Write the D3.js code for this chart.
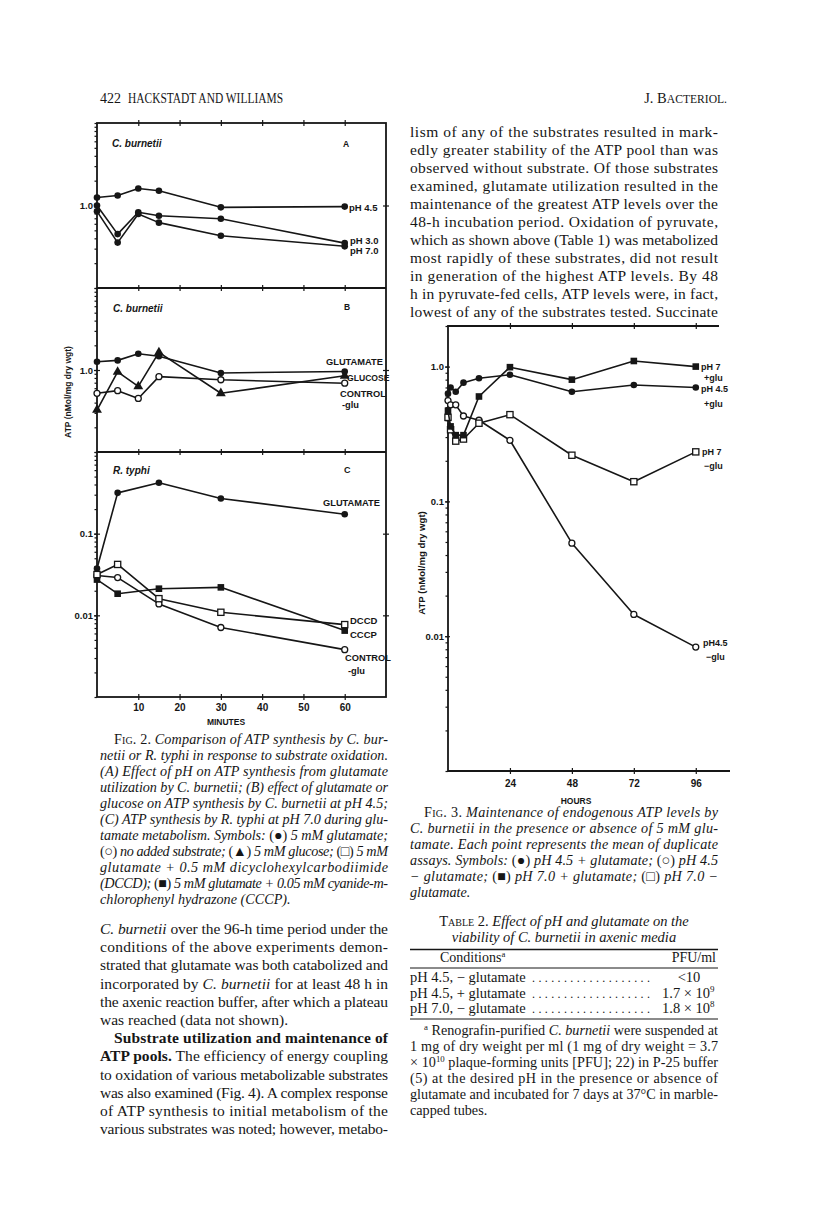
<!DOCTYPE html>
<html><head><meta charset="utf-8">
<script src="https://cdn.jsdelivr.net/npm/d3@7"></script>
<style>html,body{margin:0;padding:0;background:#fff;}svg{display:block;}</style>
</head><body>
<svg id="page" width="816" height="1226"></svg>
<script>
// ================= DATA =================
// Fig. 2 (minutes)
const fig2Minutes = [0, 5, 10, 15, 30, 60];
const panelA_pH45 = [1.25, 1.32, 1.61, 1.51, 0.95, 0.97];
const panelA_pH30 = [1.0, 0.45, 0.83, 0.75, 0.69, 0.35];
const panelA_pH70 = [0.85, 0.355, 0.79, 0.62, 0.43, 0.32];
const panelB_glutamate = [1.26, 1.31, 1.58, 1.47, 0.92, 0.96];
const panelB_glucose = [0.325, 0.95, 0.63, 1.64, 0.52, 0.85];
const panelB_control = [0.52, 0.56, 0.45, 0.83, 0.76, 0.69];
const panelC_minutes = [0, 5, 15, 30, 60];
const panelC_glutamate = [0.0374, 0.316, 0.42, 0.27, 0.173];
const panelC_dccd = [0.0316, 0.042, 0.016, 0.0109, 0.0077];
const panelC_cccp = [0.0274, 0.0184, 0.0212, 0.022, 0.0065];
const panelC_control = [0.0307, 0.029, 0.0138, 0.0071, 0.0038];
const fig2XTicks = [10, 20, 30, 40, 50, 60];
const fig2YLabelsAB = [{v: 1, t: "1.0"}];
const fig2YLabelsC = [{v: 0.1, t: "0.1"}, {v: 0.01, t: "0.01"}];

// Fig. 3 (hours)
const fig3Hours = [0, 1, 3, 6, 12, 24, 48, 72, 96];
const fig3_pH45_glu = [0.63, 0.70, 0.65, 0.76, 0.82, 0.87, 0.65, 0.73, 0.70];
const fig3_pH45_noglu = [0.56, 0.52, 0.52, 0.43, 0.40, 0.284, 0.049, 0.0145, 0.0083];
const fig3_pH7_glu = [0.47, 0.36, 0.31, 0.31, 0.60, 0.99, 0.80, 1.1, 1.0];
const fig3_pH7_noglu = [0.42, 0.34, 0.28, 0.29, 0.38, 0.44, 0.22, 0.14, 0.233];
const fig3XTicks = [24, 48, 72, 96];
const fig3YLabels = [{v: 1, t: "1.0"}, {v: 0.1, t: "0.1"}, {v: 0.01, t: "0.01"}];

// Table 2
const table2Conditions = ["pH 4.5, \u2212 glutamate", "pH 4.5, + glutamate", "pH 7.0, \u2212 glutamate"];
const table2PFU = [["<10", ""], ["1.7 \u00d7 10", "9"], ["1.8 \u00d7 10", "8"]];

// ================= TEXT =================
const rightBody = [
 ["lism of any of the substrates resulted in mark-"],
 ["edly greater stability of the ATP pool than was"],
 ["observed without substrate. Of those substrates"],
 ["examined, glutamate utilization resulted in the"],
 ["maintenance of the greatest ATP levels over the"],
 ["48-h incubation period. Oxidation of pyruvate,"],
 ["which as shown above (Table 1) was metabolized"],
 ["most rapidly of these substrates, did not result"],
 ["in generation of the highest ATP levels. By 48"],
 ["h in pyruvate-fed cells, ATP levels were, in fact,"],
 ["lowest of any of the substrates tested. Succinate"]
];
const leftBody = [
 {s: [["C. burnetii", "i"], " over the 96-h time period under the"]},
 {s: ["conditions of the above experiments demon-"]},
 {s: ["strated that glutamate was both catabolized and"]},
 {s: ["incorporated by ", ["C. burnetii", "i"], " for at least 48 h in"]},
 {s: ["the axenic reaction buffer, after which a plateau"]},
 {s: ["was reached (data not shown)."], last: true},
 {s: [["Substrate utilization and maintenance of", "b"]], indent: true},
 {s: [["ATP pools.", "b"], " The efficiency of energy coupling"]},
 {s: ["to oxidation of various metabolizable substrates"]},
 {s: ["was also examined (Fig. 4). A complex response"]},
 {s: ["of ATP synthesis to initial metabolism of the"]},
 {s: ["various substrates was noted; however, metabo-"]}
];
const fig2Caption = [
 {s: [["Fig. 2.", "nc"], " Comparison of ATP synthesis by C. bur-"], indent: true},
 {s: ["netii or R. typhi in response to substrate oxidation."]},
 {s: ["(A) Effect of pH on ATP synthesis from glutamate"]},
 {s: ["utilization by C. burnetii; (B) effect of glutamate or"]},
 {s: ["glucose on ATP synthesis by C. burnetii at pH 4.5;"]},
 {s: ["(C) ATP synthesis by R. typhi at pH 7.0 during glu-"]},
 {s: ["tamate metabolism. Symbols: ", ["(\u25cf)", "n"], " 5 mM glutamate;"]},
 {s: [["(\u25cb)", "n"], " no added substrate; ", ["(\u25b2)", "n"], " 5 mM glucose; ", ["(\u25a1)", "n"], " 5 mM"]},
 {s: ["glutamate + 0.5 mM dicyclohexylcarbodiimide"]},
 {s: ["(DCCD); ", ["(\u25a0)", "n"], " 5 mM glutamate + 0.05 mM cyanide-m-"]},
 {s: ["chlorophenyl hydrazone (CCCP)."], last: true}
];
const fig3Caption = [
 {s: [["Fig. 3.", "nc"], " Maintenance of endogenous ATP levels by"], indent: true},
 {s: ["C. burnetii in the presence or absence of 5 mM glu-"]},
 {s: ["tamate. Each point represents the mean of duplicate"]},
 {s: ["assays. Symbols: ", ["(\u25cf)", "n"], " pH 4.5 + glutamate; ", ["(\u25cb)", "n"], " pH 4.5"]},
 {s: ["\u2212 glutamate; ", ["(\u25a0)", "n"], " pH 7.0 + glutamate; ", ["(\u25a1)", "n"], " pH 7.0 \u2212"]},
 {s: ["glutamate."], last: true}
];
const table2Footnote = [
 {s: [["a", "sup"], " Renografin-purified ", ["C. burnetii", "i"], " were suspended at"], indent: true},
 {s: ["1 mg of dry weight per ml (1 mg of dry weight = 3.7"]},
 {s: ["\u00d7 10", ["10", "sup"], " plaque-forming units [PFU]; 22) in P-25 buffer"]},
 {s: ["(5) at the desired pH in the presence or absence of"]},
 {s: ["glutamate and incubated for 7 days at 37\u00b0C in marble-"]},
 {s: ["capped tubes."], last: true}
];

// ================= DRAW =================
const SERIF = "'Liberation Serif','DejaVu Serif',serif";
const SANS = "'Liberation Sans','DejaVu Sans',sans-serif";
const INK = "#161616";
const svg = d3.select("#page");
svg.append("rect").attr("width", 816).attr("height", 1226).attr("fill", "#fff");

function line(g, x, y, segs, o) {
  const t = g.append("text").attr("x", x).attr("y", y)
    .attr("font-family", o.family || SERIF).attr("font-size", o.size).attr("fill", INK);
  if (o.italic) t.attr("font-style", "italic");
  if (o.bold) t.attr("font-weight", "bold");
  if (o.anchor) t.attr("text-anchor", o.anchor);
  if (o.width) t.attr("textLength", o.width).attr("lengthAdjust", o.adjust || "spacing");
  let raised = false;
  const shift = o.size * 0.38;
  segs.forEach(s => {
    const txt = typeof s === "string" ? s : s[0];
    const st = typeof s === "string" ? "" : s[1];
    const sp = t.append("tspan").text(txt);
    if (st === "sup") {
      sp.attr("font-size", o.size * 0.62);
      if (!raised) { sp.attr("dy", -shift); raised = true; }
      return;
    }
    if (raised) { sp.attr("dy", shift); raised = false; }
    if (st.includes("i")) sp.attr("font-style", "italic");
    if (st.includes("n")) sp.attr("font-style", "normal");
    if (st.includes("b")) sp.attr("font-weight", "bold");
    if (st.includes("c")) sp.attr("font-variant", "small-caps");
    if (st.includes("m")) sp.attr("font-size", o.size * 0.8);
  });
  return t;
}

function paragraph(g, lines, x0, x1, y0, dy, o) {
  lines.forEach((ln, i) => {
    const segs = ln.s || ln;
    const xs = ln.indent ? x0 + 14 : x0;
    const oo = Object.assign({}, o);
    if (!ln.last) oo.width = x1 - xs;
    line(g, xs, y0 + i * dy, segs, oo);
  });
}

// header
const hdr = svg.append("g");
line(hdr, 100, 103, ["422"], {size: 14});
line(hdr, 128, 103, ["HACKSTADT AND WILLIAMS"], {size: 14.5, width: 155, adjust: "spacingAndGlyphs"});
line(hdr, 727, 103, ["J. B", ["ACTERIOL.", "m"]], {size: 14.5, anchor: "end"});

// body text
const tx = svg.append("g");
paragraph(tx, rightBody, 410, 718, 137, 18, {size: 15.5});
paragraph(tx, leftBody, 100, 388, 934, 18.2, {size: 15.5});
paragraph(tx, fig2Caption, 100, 388, 744, 16, {size: 14.2, italic: true});
paragraph(tx, fig3Caption, 410, 718, 817, 16, {size: 14.2, italic: true});

// ---------- generic chart helpers ----------
function drawSeries(g, xs, ys, xS, yS, mk) {
  const pts = xs.map((x, i) => [xS(x), yS(ys[i])]);
  g.append("path").attr("d", d3.line()(pts)).attr("fill", "none")
    .attr("stroke", INK).attr("stroke-width", 1.6).attr("stroke-linejoin", "round");
  const m = g.append("g");
  pts.forEach(p => {
    if (mk === "fc") m.append("circle").attr("cx", p[0]).attr("cy", p[1]).attr("r", 3.3).attr("fill", INK);
    else if (mk === "oc") m.append("circle").attr("cx", p[0]).attr("cy", p[1]).attr("r", 3).attr("fill", "#fff").attr("stroke", INK).attr("stroke-width", 1.3);
    else if (mk === "fs") m.append("rect").attr("x", p[0] - 3.3).attr("y", p[1] - 3.3).attr("width", 6.6).attr("height", 6.6).attr("fill", INK);
    else if (mk === "os") m.append("rect").attr("x", p[0] - 3.1).attr("y", p[1] - 3.1).attr("width", 6.2).attr("height", 6.2).attr("fill", "#fff").attr("stroke", INK).attr("stroke-width", 1.3);
    else if (mk === "ft") m.append("path").attr("transform", `translate(${p[0]},${p[1]})`).attr("d", d3.symbol(d3.symbolTriangle, 42)()).attr("fill", INK);
  });
}
function minorTicks(domain) {
  const out = [];
  for (let e = Math.floor(Math.log10(domain[0])); e <= Math.ceil(Math.log10(domain[1])); e++)
    for (let k = 1; k <= 9; k++) { const v = k * Math.pow(10, e); if (v >= domain[0] * 0.999 && v <= domain[1] * 1.001) out.push(v); }
  return out;
}
function styleAxis(g) {
  g.select(".domain").remove();
  g.selectAll("line").attr("stroke", INK).attr("stroke-width", 1.2);
  g.selectAll("text").attr("fill", INK);
}
function addLabel(g, lb) {
  g.append("text").attr("x", lb.x).attr("y", lb.y).text(lb.t)
    .attr("font-family", SANS).attr("font-weight", "bold").attr("font-size", lb.size || 9.5)
    .attr("font-style", lb.italic ? "italic" : "normal").attr("fill", INK);
}

// ================= FIG 2 =================
const f2 = svg.append("g");
const x2 = d3.scaleLinear([0, 70], [97, 386]);
const panels = [
  {y: d3.scaleLog([0.1, 10], [288, 123]), labels: fig2YLabelsAB,
   series: [[fig2Minutes, panelA_pH45, "fc"], [fig2Minutes, panelA_pH30, "fc"], [fig2Minutes, panelA_pH70, "fc"]],
   text: [{t: "C. burnetii", x: 112, y: 147, italic: true, size: 10}, {t: "A", x: 343, y: 147, size: 8.5},
          {t: "pH 4.5", x: 349, y: 211}, {t: "pH 3.0", x: 350, y: 244}, {t: "pH 7.0", x: 350, y: 254}]},
  {y: d3.scaleLog([0.1, 10], [452, 288]), labels: fig2YLabelsAB,
   series: [[fig2Minutes, panelB_control, "oc"], [fig2Minutes, panelB_glucose, "ft"], [fig2Minutes, panelB_glutamate, "fc"]],
   text: [{t: "C. burnetii", x: 113, y: 312, italic: true, size: 10}, {t: "B", x: 344, y: 310, size: 8.5},
          {t: "GLUTAMATE", x: 326, y: 365, size: 9.3}, {t: "GLUCOSE", x: 347, y: 381, size: 8.6},
          {t: "CONTROL", x: 340, y: 397, size: 9.3}, {t: "-glu", x: 342, y: 408, size: 9.3}]},
  {y: d3.scaleLog([0.001, 1], [697, 452]), labels: fig2YLabelsC,
   series: [[panelC_minutes, panelC_glutamate, "fc"], [panelC_minutes, panelC_control, "oc"], [panelC_minutes, panelC_cccp, "fs"], [panelC_minutes, panelC_dccd, "os"]],
   text: [{t: "R. typhi", x: 113, y: 474, italic: true, size: 10}, {t: "C", x: 344, y: 473, size: 9},
          {t: "GLUTAMATE", x: 323, y: 506, size: 9.3}, {t: "DCCD", x: 350, y: 624, size: 9.5},
          {t: "CCCP", x: 350, y: 638, size: 9.5}, {t: "CONTROL", x: 345, y: 661, size: 9.3}, {t: "-glu", x: 348, y: 674, size: 9.3}]}
];
f2.append("rect").attr("x", 97).attr("y", 123).attr("width", 289).attr("height", 574)
  .attr("fill", "none").attr("stroke", INK).attr("stroke-width", 1.8);
[288, 452].forEach(yy => f2.append("line").attr("x1", 97).attr("x2", 386).attr("y1", yy).attr("y2", yy).attr("stroke", INK).attr("stroke-width", 1.8));
[123, 288, 452].forEach(yy => {
  styleAxis(f2.append("g").attr("transform", `translate(0,${yy - 3})`).call(d3.axisBottom(x2).tickValues(fig2XTicks).tickSize(6).tickFormat("")));
});
const xa2 = f2.append("g").attr("transform", "translate(0,694)")
  .call(d3.axisBottom(x2).tickValues(fig2XTicks).tickSize(6).tickPadding(4).tickFormat(d3.format("d")));
styleAxis(xa2);
xa2.selectAll("text").attr("font-family", SANS).attr("font-weight", "bold").attr("font-size", 10);
f2.append("text").attr("x", 226).attr("y", 725).attr("text-anchor", "middle").text("MINUTES")
  .attr("font-family", SANS).attr("font-weight", "bold").attr("font-size", 8.5).attr("fill", INK);

panels.forEach(p => {
  const g = f2.append("g");
  styleAxis(g.append("g").attr("transform", "translate(97,0)")
    .call(d3.axisLeft(p.y).tickValues(minorTicks(p.y.domain())).tickSize(2.5).tickFormat("")));
  const maj = g.append("g").attr("transform", "translate(100,0)")
    .call(d3.axisLeft(p.y).tickValues(p.labels.map(d => d.v)).tickSize(6).tickPadding(1).tickFormat((d, i) => p.labels[i].t));
  styleAxis(maj);
  maj.selectAll("text").attr("font-family", SANS).attr("font-weight", "bold").attr("font-size", 9.5);
  styleAxis(g.append("g").attr("transform", "translate(389,0)")
    .call(d3.axisLeft(p.y).tickValues(p.labels.map(d => d.v)).tickSize(6).tickFormat("")));
  p.series.forEach(s => drawSeries(g, s[0], s[1], x2, p.y, s[2]));
  p.text.forEach(lb => addLabel(g, lb));
});
f2.append("text").attr("transform", "translate(71,392) rotate(-90)").attr("text-anchor", "middle")
  .text("ATP (nMol/mg dry wgt)").attr("font-family", SANS).attr("font-weight", "bold").attr("font-size", 8.5).attr("fill", INK);

// ================= FIG 3 =================
const f3 = svg.append("g");
const x3 = d3.scaleLinear([0, 105], [448, 719]);
const y3 = d3.scaleLog([0.001, 2], [771, 326]);
f3.append("path").attr("d", `M719,326H448V771H730`).attr("fill", "none").attr("stroke", INK).attr("stroke-width", 1.8);
styleAxis(f3.append("g").attr("transform", "translate(0,323)").call(d3.axisBottom(x3).tickValues(fig3XTicks).tickSize(6).tickFormat("")));
const xa3 = f3.append("g").attr("transform", "translate(0,768)")
  .call(d3.axisBottom(x3).tickValues(fig3XTicks).tickSize(6).tickPadding(6).tickFormat(d3.format("d")));
styleAxis(xa3);
xa3.selectAll("text").attr("font-family", SANS).attr("font-weight", "bold").attr("font-size", 10);
f3.append("text").attr("x", 576).attr("y", 804).attr("text-anchor", "middle").text("HOURS")
  .attr("font-family", SANS).attr("font-weight", "bold").attr("font-size", 8.5).attr("fill", INK);
styleAxis(f3.append("g").attr("transform", "translate(448,0)")
  .call(d3.axisLeft(y3).tickValues(minorTicks(y3.domain())).tickSize(2.5).tickFormat("")));
const ya3 = f3.append("g").attr("transform", "translate(450,0)")
  .call(d3.axisLeft(y3).tickValues(fig3YLabels.map(d => d.v)).tickSize(5).tickPadding(1).tickFormat((d, i) => fig3YLabels[i].t));
styleAxis(ya3);
ya3.selectAll("text").attr("font-family", SANS).attr("font-weight", "bold").attr("font-size", 9.5);
f3.append("text").attr("transform", "translate(425,563) rotate(-90)").attr("text-anchor", "middle")
  .text("ATP (nMol/mg dry wgt)").attr("font-family", SANS).attr("font-weight", "bold").attr("font-size", 9.6).attr("fill", INK);
drawSeries(f3, fig3Hours, fig3_pH45_noglu, x3, y3, "oc");
drawSeries(f3, fig3Hours, fig3_pH7_noglu, x3, y3, "os");
drawSeries(f3, fig3Hours, fig3_pH45_glu, x3, y3, "fc");
drawSeries(f3, fig3Hours, fig3_pH7_glu, x3, y3, "fs");
[{t: "pH 7", x: 701, y: 370}, {t: "+glu", x: 704, y: 381}, {t: "pH 4.5", x: 701, y: 392}, {t: "+glu", x: 704, y: 407},
 {t: "pH 7", x: 702, y: 455}, {t: "\u2212glu", x: 704, y: 469}, {t: "pH4.5", x: 703, y: 646}, {t: "\u2212glu", x: 706, y: 660}]
 .forEach(lb => addLabel(f3, Object.assign({size: 9}, lb)));

// ================= TABLE 2 =================
const tb = svg.append("g");
line(tb, 564, 926, [["Table", "nc"], " 2. ", ["Effect of pH and glutamate on the", "i"]], {size: 14.5, anchor: "middle"});
line(tb, 564, 942, ["viability of C. burnetii in axenic media"], {size: 14.5, anchor: "middle", italic: true});
[[949.5, 1.6], [968, 1], [1019, 1]].forEach(r => tb.append("line").attr("x1", 410).attr("x2", 718)
  .attr("y1", r[0]).attr("y2", r[0]).attr("stroke", INK).attr("stroke-width", r[1]));
line(tb, 440, 962, ["Conditions", ["a", "sup"]], {size: 14});
line(tb, 716, 962, ["PFU/ml"], {size: 14, anchor: "end"});
table2Conditions.forEach((c, i) => {
  const yy = 982 + i * 15.5;
  line(tb, 410, yy, [c], {size: 14.5});
  line(tb, 532, yy, [". . . . . . . . . . . . . . . . . . ."], {size: 12, width: 118});
  const v = table2PFU[i];
  if (v[1]) line(tb, 662, yy, [v[0], [v[1], "sup"]], {size: 14.5});
  else line(tb, 689, yy, [v[0]], {size: 14.5, anchor: "middle"});
});
paragraph(tb, table2Footnote, 410, 718, 1035, 16, {size: 14.2});
</script>
</body></html>
